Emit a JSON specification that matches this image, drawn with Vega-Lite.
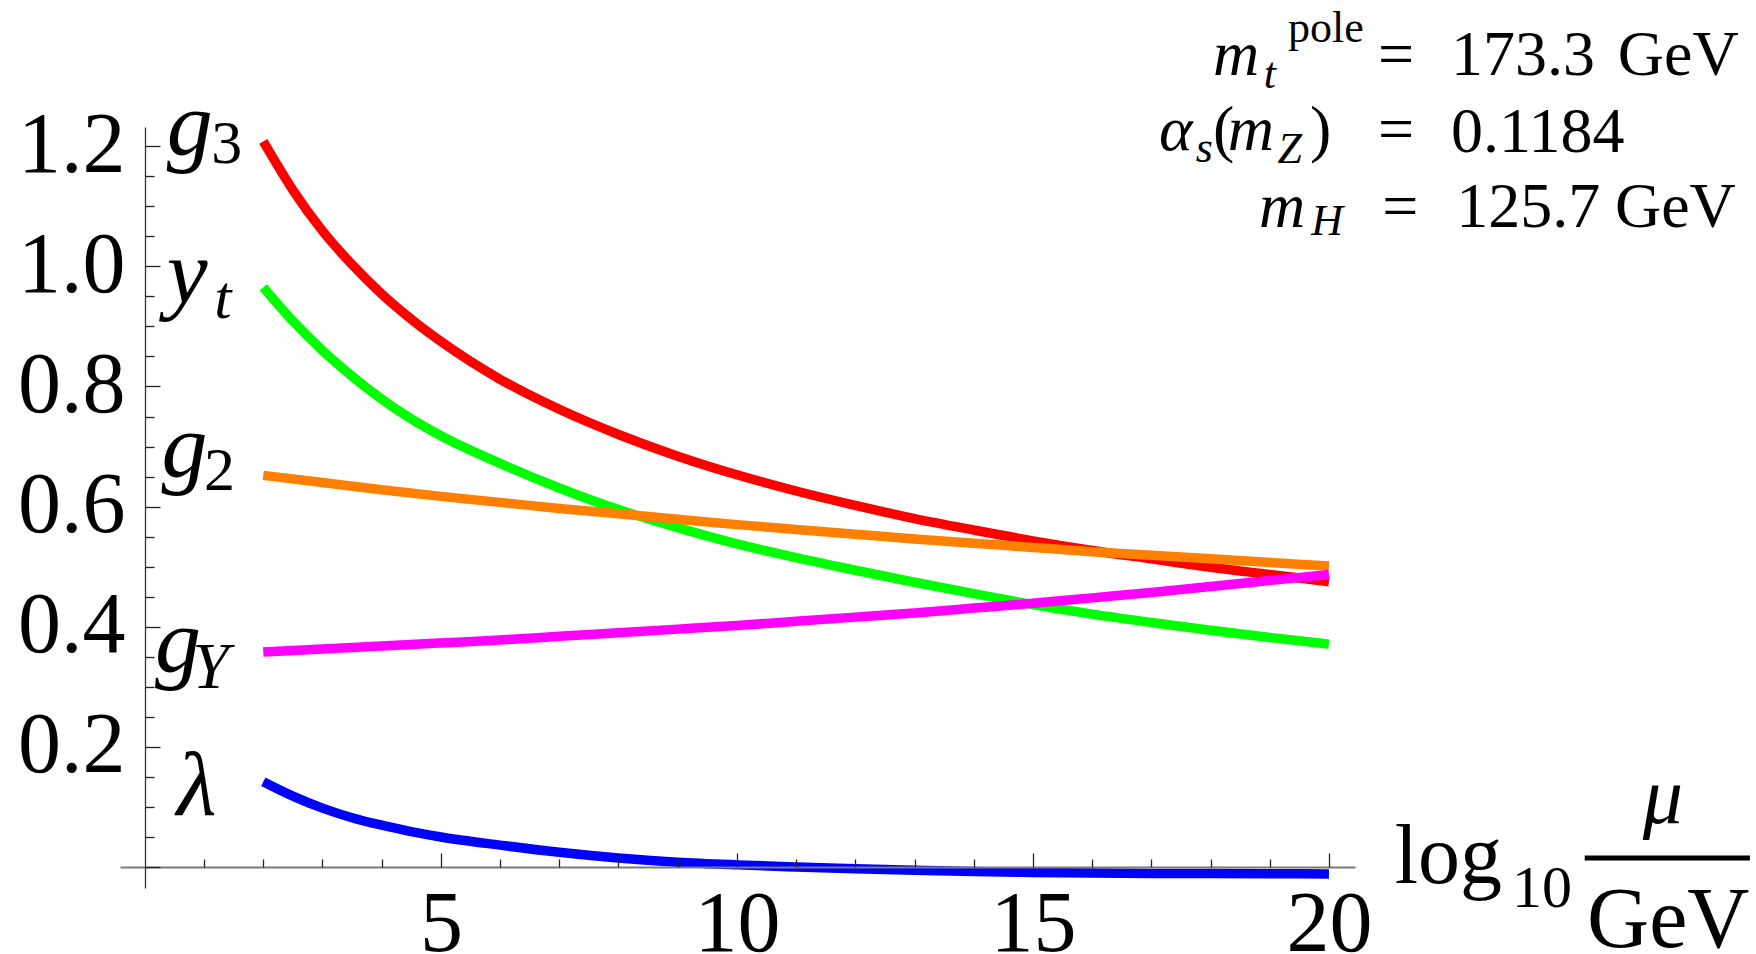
{
  "$schema": "https://vega.github.io/schema/vega-lite/v6.json",
  "width": 1235,
  "height": 761,
  "autosize": {"type": "none"},
  "padding": {"left": 120, "top": 127, "right": 401, "bottom": 66},
  "background": "white",
  "config": {"view": {"stroke": null}},
  "datasets": {
    "couplings": [
      {"coupling": "g3", "log10_mu": 2, "value": 1.208},
      {"coupling": "g3", "log10_mu": 2.5, "value": 1.127},
      {"coupling": "g3", "log10_mu": 3, "value": 1.059},
      {"coupling": "g3", "log10_mu": 3.5, "value": 1.003},
      {"coupling": "g3", "log10_mu": 4, "value": 0.954},
      {"coupling": "g3", "log10_mu": 4.5, "value": 0.912},
      {"coupling": "g3", "log10_mu": 5, "value": 0.875},
      {"coupling": "g3", "log10_mu": 6, "value": 0.812},
      {"coupling": "g3", "log10_mu": 7, "value": 0.762},
      {"coupling": "g3", "log10_mu": 8, "value": 0.720},
      {"coupling": "g3", "log10_mu": 9, "value": 0.684},
      {"coupling": "g3", "log10_mu": 10, "value": 0.653},
      {"coupling": "g3", "log10_mu": 11, "value": 0.626},
      {"coupling": "g3", "log10_mu": 12, "value": 0.602},
      {"coupling": "g3", "log10_mu": 13, "value": 0.580},
      {"coupling": "g3", "log10_mu": 14, "value": 0.561},
      {"coupling": "g3", "log10_mu": 15, "value": 0.543},
      {"coupling": "g3", "log10_mu": 16, "value": 0.527},
      {"coupling": "g3", "log10_mu": 17, "value": 0.513},
      {"coupling": "g3", "log10_mu": 18, "value": 0.499},
      {"coupling": "g3", "log10_mu": 19, "value": 0.487},
      {"coupling": "g3", "log10_mu": 20, "value": 0.475},

      {"coupling": "yt", "log10_mu": 2, "value": 0.965},
      {"coupling": "yt", "log10_mu": 2.5, "value": 0.909},
      {"coupling": "yt", "log10_mu": 3, "value": 0.860},
      {"coupling": "yt", "log10_mu": 3.5, "value": 0.817},
      {"coupling": "yt", "log10_mu": 4, "value": 0.779},
      {"coupling": "yt", "log10_mu": 4.5, "value": 0.746},
      {"coupling": "yt", "log10_mu": 5, "value": 0.718},
      {"coupling": "yt", "log10_mu": 6, "value": 0.672},
      {"coupling": "yt", "log10_mu": 7, "value": 0.631},
      {"coupling": "yt", "log10_mu": 8, "value": 0.595},
      {"coupling": "yt", "log10_mu": 9, "value": 0.565},
      {"coupling": "yt", "log10_mu": 10, "value": 0.538},
      {"coupling": "yt", "log10_mu": 11, "value": 0.515},
      {"coupling": "yt", "log10_mu": 12, "value": 0.494},
      {"coupling": "yt", "log10_mu": 13, "value": 0.474},
      {"coupling": "yt", "log10_mu": 14, "value": 0.455},
      {"coupling": "yt", "log10_mu": 15, "value": 0.437},
      {"coupling": "yt", "log10_mu": 16, "value": 0.421},
      {"coupling": "yt", "log10_mu": 17, "value": 0.407},
      {"coupling": "yt", "log10_mu": 18, "value": 0.394},
      {"coupling": "yt", "log10_mu": 19, "value": 0.382},
      {"coupling": "yt", "log10_mu": 20, "value": 0.371},

      {"coupling": "g2", "log10_mu": 2, "value": 0.652},
      {"coupling": "g2", "log10_mu": 3, "value": 0.640},
      {"coupling": "g2", "log10_mu": 4, "value": 0.628},
      {"coupling": "g2", "log10_mu": 5, "value": 0.617},
      {"coupling": "g2", "log10_mu": 6, "value": 0.607},
      {"coupling": "g2", "log10_mu": 7, "value": 0.597},
      {"coupling": "g2", "log10_mu": 8, "value": 0.588},
      {"coupling": "g2", "log10_mu": 9, "value": 0.579},
      {"coupling": "g2", "log10_mu": 10, "value": 0.570},
      {"coupling": "g2", "log10_mu": 11, "value": 0.562},
      {"coupling": "g2", "log10_mu": 12, "value": 0.554},
      {"coupling": "g2", "log10_mu": 13, "value": 0.546},
      {"coupling": "g2", "log10_mu": 14, "value": 0.539},
      {"coupling": "g2", "log10_mu": 15, "value": 0.532},
      {"coupling": "g2", "log10_mu": 16, "value": 0.525},
      {"coupling": "g2", "log10_mu": 17, "value": 0.519},
      {"coupling": "g2", "log10_mu": 18, "value": 0.513},
      {"coupling": "g2", "log10_mu": 19, "value": 0.507},
      {"coupling": "g2", "log10_mu": 20, "value": 0.501},

      {"coupling": "gY", "log10_mu": 2, "value": 0.358},
      {"coupling": "gY", "log10_mu": 3, "value": 0.363},
      {"coupling": "gY", "log10_mu": 4, "value": 0.368},
      {"coupling": "gY", "log10_mu": 5, "value": 0.373},
      {"coupling": "gY", "log10_mu": 6, "value": 0.378},
      {"coupling": "gY", "log10_mu": 7, "value": 0.384},
      {"coupling": "gY", "log10_mu": 8, "value": 0.390},
      {"coupling": "gY", "log10_mu": 9, "value": 0.396},
      {"coupling": "gY", "log10_mu": 10, "value": 0.402},
      {"coupling": "gY", "log10_mu": 11, "value": 0.409},
      {"coupling": "gY", "log10_mu": 12, "value": 0.416},
      {"coupling": "gY", "log10_mu": 13, "value": 0.423},
      {"coupling": "gY", "log10_mu": 14, "value": 0.431},
      {"coupling": "gY", "log10_mu": 15, "value": 0.439},
      {"coupling": "gY", "log10_mu": 16, "value": 0.448},
      {"coupling": "gY", "log10_mu": 17, "value": 0.457},
      {"coupling": "gY", "log10_mu": 18, "value": 0.467},
      {"coupling": "gY", "log10_mu": 19, "value": 0.477},
      {"coupling": "gY", "log10_mu": 20, "value": 0.487},

      {"coupling": "lambda", "log10_mu": 2, "value": 0.142},
      {"coupling": "lambda", "log10_mu": 2.5, "value": 0.118},
      {"coupling": "lambda", "log10_mu": 3, "value": 0.098},
      {"coupling": "lambda", "log10_mu": 3.5, "value": 0.082},
      {"coupling": "lambda", "log10_mu": 4, "value": 0.0695},
      {"coupling": "lambda", "log10_mu": 4.5, "value": 0.059},
      {"coupling": "lambda", "log10_mu": 5, "value": 0.050},
      {"coupling": "lambda", "log10_mu": 6, "value": 0.0364},
      {"coupling": "lambda", "log10_mu": 7, "value": 0.0245},
      {"coupling": "lambda", "log10_mu": 8, "value": 0.0150},
      {"coupling": "lambda", "log10_mu": 9, "value": 0.0080},
      {"coupling": "lambda", "log10_mu": 10, "value": 0.0035},
      {"coupling": "lambda", "log10_mu": 11, "value": 0.0},
      {"coupling": "lambda", "log10_mu": 12, "value": -0.003},
      {"coupling": "lambda", "log10_mu": 13, "value": -0.0055},
      {"coupling": "lambda", "log10_mu": 14, "value": -0.0075},
      {"coupling": "lambda", "log10_mu": 15, "value": -0.009},
      {"coupling": "lambda", "log10_mu": 16, "value": -0.010},
      {"coupling": "lambda", "log10_mu": 17, "value": -0.0107},
      {"coupling": "lambda", "log10_mu": 18, "value": -0.011},
      {"coupling": "lambda", "log10_mu": 19, "value": -0.0113},
      {"coupling": "lambda", "log10_mu": 20, "value": -0.0115}
    ],
    "glyphs": [
      {"text": "g", "x": 0.37, "y": 1.185, "size": 92, "italic": true},
      {"text": "3", "x": 1.12, "y": 1.172, "size": 62, "italic": false},
      {"text": "y", "x": 0.37, "y": 0.939, "size": 92, "italic": true},
      {"text": "t", "x": 1.17, "y": 0.914, "size": 62, "italic": true},
      {"text": "g", "x": 0.28, "y": 0.6485, "size": 92, "italic": true},
      {"text": "2", "x": 1.00, "y": 0.628, "size": 62, "italic": false},
      {"text": "g", "x": 0.17, "y": 0.3246, "size": 92, "italic": true},
      {"text": "Y", "x": 0.80, "y": 0.298, "size": 66, "italic": true},
      {"text": "λ", "x": 0.54, "y": 0.0865, "size": 92, "italic": true},

      {"text": "m", "x": 18.04, "y": 1.3186, "size": 64, "italic": true},
      {"text": "t", "x": 18.90, "y": 1.297, "size": 44, "italic": true},
      {"text": "pole", "x": 19.31, "y": 1.3736, "size": 44, "italic": false},
      {"text": "=", "x": 20.83, "y": 1.3186, "size": 64, "italic": false},
      {"text": "173.3", "x": 22.06, "y": 1.3186, "size": 64, "italic": false},
      {"text": "GeV", "x": 24.88, "y": 1.3186, "size": 64, "italic": false},
      {"text": "α", "x": 17.13, "y": 1.1937, "size": 64, "italic": true},
      {"text": "s", "x": 17.75, "y": 1.1738, "size": 44, "italic": true},
      {"text": "(", "x": 18.04, "y": 1.1937, "size": 64, "italic": false},
      {"text": "m", "x": 18.29, "y": 1.1937, "size": 64, "italic": true},
      {"text": "Z", "x": 19.13, "y": 1.1721, "size": 44, "italic": true},
      {"text": ")", "x": 19.68, "y": 1.1937, "size": 64, "italic": false},
      {"text": "=", "x": 20.83, "y": 1.1937, "size": 64, "italic": false},
      {"text": "0.1184", "x": 22.06, "y": 1.190, "size": 64, "italic": false},
      {"text": "m", "x": 18.82, "y": 1.0655, "size": 64, "italic": true},
      {"text": "H", "x": 19.70, "y": 1.0522, "size": 44, "italic": true},
      {"text": "=", "x": 20.90, "y": 1.0655, "size": 64, "italic": false},
      {"text": "125.7", "x": 22.15, "y": 1.0655, "size": 64, "italic": false},
      {"text": "GeV", "x": 24.83, "y": 1.0655, "size": 64, "italic": false},

      {"text": "log", "x": 21.11, "y": -0.0267, "size": 84, "italic": false},
      {"text": "10", "x": 23.09, "y": -0.0667, "size": 60, "italic": false},
      {"text": "μ", "x": 25.30, "y": 0.0732, "size": 80, "italic": true},
      {"text": "GeV", "x": 24.36, "y": -0.1333, "size": 86, "italic": false}
    ],
    "fraction": [
      {"x": 24.32, "x2": 27.11, "y": 0.0149}
    ]
  },
  "resolve": {"axis": {"x": "independent", "y": "independent"}},
  "layer": [
    {
      "data": {"name": "couplings"},
      "mark": {"type": "line", "strokeWidth": 9.5, "strokeCap": "butt", "interpolate": "monotone"},
      "encoding": {
        "x": {
          "field": "log10_mu", "type": "quantitative",
          "scale": {"domain": [-0.42, 20.44], "nice": false, "zero": false},
          "axis": {
            "orient": "bottom", "offset": -21, "values": [5, 10, 15, 20], "title": null,
            "ticks": false, "tickSize": 0, "grid": false,
            "domain": true, "domainColor": "#7a7a7a", "domainWidth": 2,
            "labelFont": "Liberation Serif", "labelFontSize": 86, "labelColor": "black",
            "labelBaseline": "alphabetic", "labelPadding": 83, "labelFlush": false, "labelOverlap": false,
            "zindex": 1
          }
        },
        "y": {
          "field": "value", "type": "quantitative",
          "scale": {"domain": [-0.035, 1.232], "nice": false, "zero": false},
          "axis": {
            "orient": "left", "offset": -25, "values": [0.2, 0.4, 0.6, 0.8, 1.0, 1.2], "format": ".1f", "title": null,
            "ticks": false, "tickSize": 0, "grid": false,
            "domain": true, "domainColor": "#333333", "domainWidth": 1.3,
            "labelFont": "Liberation Serif", "labelFontSize": 86, "labelColor": "black",
            "labelBaseline": "alphabetic", "labelOffset": 25, "labelPadding": 20, "labelOverlap": false,
            "zindex": 1
          }
        },
        "color": {
          "field": "coupling", "type": "nominal", "legend": null,
          "scale": {"domain": ["g3", "yt", "g2", "gY", "lambda"], "range": ["#ff0000", "#00ff00", "#ff8000", "#ff00ff", "#0000ff"]}
        }
      }
    },
    {
      "data": {"name": "glyphs"},
      "transform": [{"filter": "!datum.italic"}],
      "mark": {"type": "text", "align": "left", "baseline": "alphabetic", "font": "Liberation Serif", "fontStyle": "normal", "color": "black"},
      "encoding": {
        "x": {
          "field": "x", "type": "quantitative",
          "scale": {"domain": [-0.42, 20.44], "nice": false, "zero": false},
          "axis": {
            "orient": "top", "offset": -740, "title": null, "grid": false,
            "values": [1, 2, 3, 4, 5, 6, 7, 8, 9, 10, 11, 12, 13, 14, 15, 16, 17, 18, 19, 20],
            "labels": false, "domain": false, "ticks": true,
            "tickSize": {"condition": {"test": "datum.value % 5 === 0", "value": 14}, "value": 8},
            "tickColor": "#222222", "tickWidth": 1.3, "zindex": 1
          }
        },
        "y": {
          "field": "y", "type": "quantitative",
          "scale": {"domain": [-0.035, 1.232], "nice": false, "zero": false},
          "axis": {
            "orient": "right", "offset": -1210, "title": null, "grid": false,
            "values": [0, 0.05, 0.1, 0.15, 0.2, 0.25, 0.3, 0.35, 0.4, 0.45, 0.5, 0.55, 0.6, 0.65, 0.7, 0.75, 0.8, 0.85, 0.9, 0.95, 1.0, 1.05, 1.1, 1.15, 1.2],
            "labels": false, "domain": false, "ticks": true,
            "tickSize": {"condition": {"test": "abs(datum.value * 5 - round(datum.value * 5)) < 0.001", "value": 15}, "value": 9},
            "tickColor": "#222222", "tickWidth": 1.3, "zindex": 1
          }
        },
        "text": {"field": "text", "type": "nominal"},
        "size": {"field": "size", "type": "quantitative", "scale": null}
      }
    },
    {
      "data": {"name": "glyphs"},
      "transform": [{"filter": "datum.italic"}],
      "mark": {"type": "text", "align": "left", "baseline": "alphabetic", "font": "Liberation Serif", "fontStyle": "italic", "color": "black"},
      "encoding": {
        "x": {"field": "x", "type": "quantitative", "scale": {"domain": [-0.42, 20.44], "nice": false, "zero": false}, "axis": null},
        "y": {"field": "y", "type": "quantitative", "scale": {"domain": [-0.035, 1.232], "nice": false, "zero": false}, "axis": null},
        "text": {"field": "text", "type": "nominal"},
        "size": {"field": "size", "type": "quantitative", "scale": null}
      }
    },
    {
      "data": {"name": "fraction"},
      "mark": {"type": "rule", "strokeWidth": 5, "color": "black"},
      "encoding": {
        "x": {"field": "x", "type": "quantitative", "scale": {"domain": [-0.42, 20.44], "nice": false, "zero": false}, "axis": null},
        "x2": {"field": "x2"},
        "y": {"field": "y", "type": "quantitative", "scale": {"domain": [-0.035, 1.232], "nice": false, "zero": false}, "axis": null}
      }
    }
  ]
}
